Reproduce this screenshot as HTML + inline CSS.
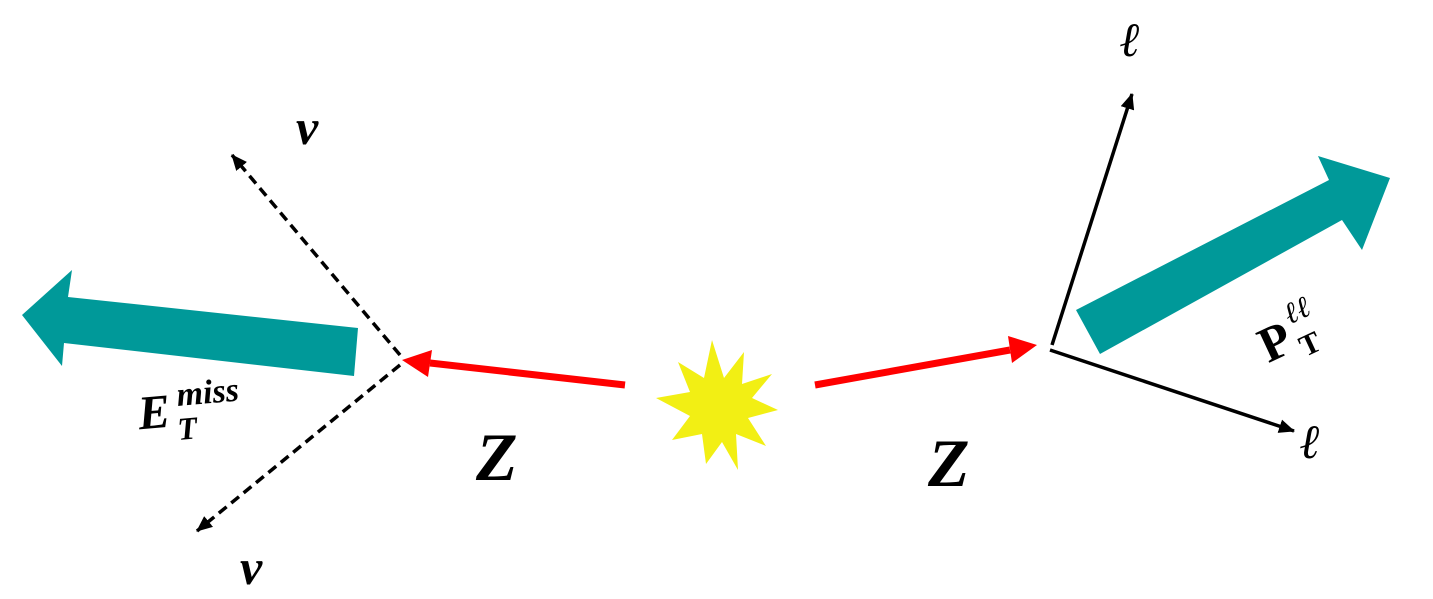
<!DOCTYPE html>
<html><head><meta charset="utf-8"><style>
html,body{margin:0;padding:0;background:#fff;}
svg{display:block;}
text{font-family:"Liberation Serif",serif;font-weight:bold;}
</style></head><body>
<svg width="1433" height="599" viewBox="0 0 1433 599">
<defs>
<marker id="ar" markerWidth="16" markerHeight="14" refX="15" refY="7" orient="auto" markerUnits="userSpaceOnUse"><path d="M0,0 L16,7 L0,14 z" fill="#000"/></marker>
</defs>
<g>
<polygon fill="#009999" points="358,328 354,376 64,343 62,366 22,315 72,270 68,297"/>
</g>
<g>
<polygon fill="#009999" points="1076,310 1100,354 1342,220 1362,250 1390,178 1318,156 1329,180"/>
</g>
<g>
<line x1="625" y1="385" x2="430" y2="363" stroke="#ff0000" stroke-width="7"/>
<polygon fill="#ff0000" points="402,360 432,350 428,377"/>
</g>
<g>
<line x1="815" y1="385" x2="1010" y2="350" stroke="#ff0000" stroke-width="7"/>
<polygon fill="#ff0000" points="1037,345 1008,336 1012,363"/>
</g>
<polygon fill="#f2ef14" points="712,340 724,378 744,352 742,384 772,374 752,398 778,410 748,418 766,446 736,434 738,470 722,442 706,464 702,434 672,440 690,416 656,398 690,392 678,362 704,378"/>
<line x1="400" y1="355" x2="232" y2="155" stroke="#000" stroke-width="3.5" stroke-dasharray="10,6" marker-end="url(#ar)"/>
<line x1="400" y1="365" x2="197" y2="531" stroke="#000" stroke-width="3.5" stroke-dasharray="10,6" marker-end="url(#ar)"/>
<line x1="1052" y1="345" x2="1132" y2="94" stroke="#000" stroke-width="3.5" marker-end="url(#ar)"/>
<line x1="1050" y1="350" x2="1294" y2="431" stroke="#000" stroke-width="3.5" marker-end="url(#ar)"/>
<text x="296" y="144" font-size="50" font-style="italic">ν</text>
<text x="240" y="584" font-size="50" font-style="italic">ν</text>
<text x="1120" y="56" font-size="48" font-style="italic">ℓ</text>
<text x="1300" y="458" font-size="48" font-style="italic">ℓ</text>
<text x="476" y="480" font-size="68" font-style="italic">Z</text>
<text x="928" y="486" font-size="68" font-style="italic">Z</text>
<g transform="rotate(-5 200 410)">
<text x="138" y="424" font-size="48" font-style="italic">E</text>
<text x="178" y="404" font-size="34" font-style="italic">miss</text>
<text x="176" y="438" font-size="32" font-style="italic">T</text>
</g>
<g transform="rotate(-25 1290 320)">
<text x="1252" y="350" font-size="50">P</text>
<text x="1288" y="324" font-size="30" font-style="italic">ℓℓ</text>
<text x="1288" y="360" font-size="30">T</text>
</g>
</svg>
</body></html>
